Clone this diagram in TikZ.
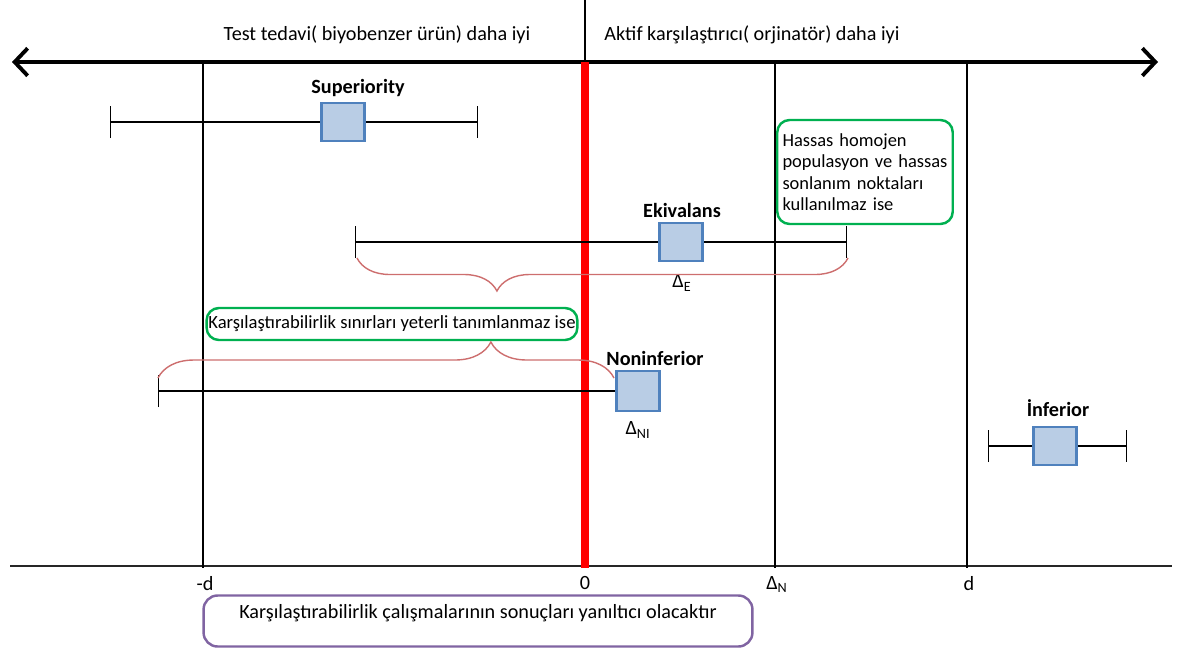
\documentclass[tikz,border=0pt]{standalone}
\usepackage{fontspec}
\setmainfont{Carlito}
\usepackage{tikz}
\usetikzlibrary{arrows.meta, calc, positioning}
\usetikzlibrary{decorations.pathreplacing}
\definecolor{kutumavi}{RGB}{79, 129, 189}
\definecolor{kutudolgu}{RGB}{185, 205, 229}
\definecolor{yesil}{RGB}{0, 176, 80}
\definecolor{mor}{RGB}{128, 100, 162}
\definecolor{parantez}{RGB}{205, 110, 110}

\begin{document}
\begin{tikzpicture}[x=0.02cm, y=-0.02cm, font=\fontsize{11.5}{14}\selectfont,
	kutu/.style = {draw=kutumavi, fill=kutudolgu, line width=1.5pt, minimum width=0.86cm, minimum height=0.76cm, inner sep=0pt},
	etiket/.style = {font=\fontsize{11.5}{14}\selectfont\bfseries},
	biyik/.style = {line width=0.8pt, {Bar[width=0.64cm]}-},
	yesilkutu/.style = {draw=yesil, line width=1.4pt, rounded corners=7pt, inner sep=3pt},
	kume/.style = {parantez, line width=0.8pt, decorate}]
	\useasboundingbox (0,0) rectangle (1187,650);

	% ust eksen
	\draw[{Straight Barb[length=2.6mm,width=5.5mm]}-{Straight Barb[length=2.6mm,width=5.5mm]}, line width=2.2pt] (12,62) -- (1158,62);
	\draw[line width=0.6pt] (585,0) -- (585,62);
	\node (sol) at (377,35) {Test tedavi( biyobenzer ürün) daha iyi};
	\node (sag) at (752,35) {Aktif karşılaştırıcı( orjinatör) daha iyi};

	% alt eksen
	\draw[line width=0.7pt, black!85] (10,566) -- (1172,566);

	% dikey cizgiler
	\foreach \x/\lab in {203/-d, 775/Δ\textsubscript{N}, 967/d}{
		\draw[line width=1.3pt] (\x,62) -- (\x,568);
		\node[anchor=north] at (\x+2,570) {\lab};
	}
	\draw[red, line width=4pt] (585,62) -- (585,568);
	\node[anchor=north] (sifir) at (585,570) {0};

	% Superiority
	\node[kutu] (sup) at (343,122) {};
	\node[etiket] (supyazi) at (358,88) {Superiority};
	\coordinate (supL) at (110,122);
	\coordinate (supR) at (478,122);
	\draw[biyik] (supL) -- (sup.west);
	\draw[biyik] (supR) -- (sup.east);

	% Ekivalans
	\node[kutu] (ekv) at (681,242) {};
	\node[etiket] (ekvyazi) at (682,210) {Ekivalans};
	\node (deltaE) at (682,283) {Δ\textsubscript{E}};
	\coordinate (ekvL) at (355,242);
	\coordinate (ekvR) at (847,242);
	\draw[biyik] (ekvL) -- (ekv.west);
	\draw[biyik] (ekvR) -- (ekv.east);
	\draw[kume, decoration={brace, mirror, amplitude=0.66cm, aspect=0.285}] (357,258) -- (848,258);

	% yesil kutular
	\node[yesilkutu, text width=3.3cm, minimum height=2.08cm, align=left, font=\fontsize{10.5}{12.2}\selectfont] (hassas) at (865,172)
		{Hassas homojen populasyon ve hassas sonlanım noktaları kullanılmaz ise};
	\node[yesilkutu, inner sep=1pt, minimum width=7.34cm, minimum height=0.64cm, font=\fontsize{10.6}{12}\selectfont] (sinir) at (392,324)
		{Karşılaştırabilirlik sınırları yeterli tanımlanmaz ise};

	% Noninferior
	\node[kutu, minimum height=0.8cm] (noninf) at (638,391) {};
	\node[etiket] (noninfyazi) at (655,358) {Noninferior};
	\node (deltaNI) at (638,430) {Δ\textsubscript{NI}};
	\coordinate (noninfL) at (158,391);
	\draw[biyik] (noninfL) -- (noninf.west);
	\draw[kume, decoration={brace, amplitude=0.72cm, aspect=0.73}] (158,378) -- (614,378);

	% Inferior
	\node[kutu] (inf) at (1055,446) {};
	\node[etiket] (infyazi) at (1058,408) {İnferior};
	\coordinate (infL) at (988,446);
	\coordinate (infR) at (1127,446);
	\draw[biyik] (infL) -- (inf.west);
	\draw[biyik] (infR) -- (inf.east);

	% sonuc kutusu
	\node[draw=mor, line width=1.4pt, rounded corners=8pt, minimum width=10.98cm, minimum height=1.02cm] (sonuc) at (478,621) {};
	\node[below=2pt of sonuc.north] (sonucyazi) {Karşılaştırabilirlik çalışmalarının sonuçları yanıltıcı olacaktır};
\end{tikzpicture}
\end{document}
